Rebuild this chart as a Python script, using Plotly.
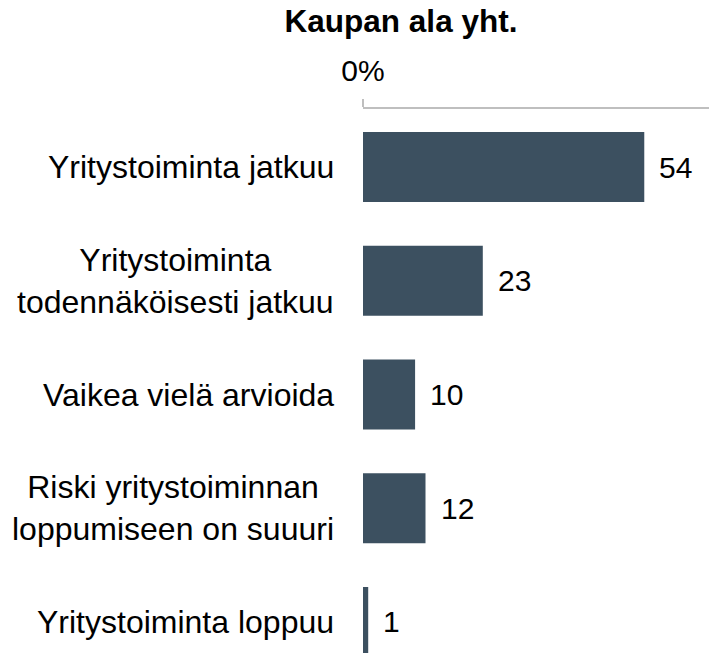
import plotly.graph_objects as go

categories = [
    "Yritystoiminta jatkuu",
    "Yritystoiminta<br>todennäköisesti jatkuu",
    "Vaikea vielä arvioida",
    "Riski yritystoiminnan<br>loppumiseen on suuuri",
    "Yritystoiminta loppuu",
]
values = [54, 23, 10, 12, 1]
title_text = "Kaupan ala yht."
tick_vals = [0]
tick_text = ["0%"]

BAR = "#3c5060"
FONT = "Liberation Sans, Arial, sans-serif"

fig = go.Figure()
fig.add_trace(go.Bar(
    x=values, y=categories, orientation="h",
    marker=dict(color=BAR, line=dict(width=0)),
    width=0.615, hoverinfo="skip",
))

annotations = []
for c, v in zip(categories, values):
    annotations.append(dict(
        x=v, y=c, xref="x", yref="y", text=str(v), showarrow=False,
        xanchor="left", yanchor="middle", xshift=13,
        font=dict(family=FONT, size=30, color="#000000"),
    ))
    annotations.append(dict(
        x=0, y=c, xref="paper", yref="y", text=c, showarrow=False,
        xanchor="right", yanchor="middle", xshift=-27, align="center",
        font=dict(family=FONT, size=32, color="#000000"),
    ))

fig.update_layout(
    width=717, height=653,
    margin=dict(l=355, r=0, t=101, b=0, pad=0),
    paper_bgcolor="white", plot_bgcolor="white",
    showlegend=False,
    font=dict(family=FONT, size=30, color="#000000"),
    title=dict(text="<b>" + title_text + "</b>", x=393 / 717, xanchor="center",
               xref="container", yref="container", y=1 - 13 / 653, yanchor="middle",
               font=dict(family=FONT, size=31.5, color="#000000")),
    xaxis=dict(side="top", range=[0, 69.5], tickvals=tick_vals, ticktext=tick_text,
               showline=True, linecolor="#bfbfbf", linewidth=1.5,
               ticks="outside", ticklen=8, tickcolor="#bfbfbf", tickwidth=1.5,
               ticklabelstandoff=6,
               showgrid=False, zeroline=False, fixedrange=True,
               tickfont=dict(family=FONT, size=30, color="#000000")),
    yaxis=dict(type="category", range=[4.343, -0.51], showticklabels=False,
               showgrid=False, zeroline=False, showline=False, ticks=""),
    annotations=annotations,
)

fig.write_html("out.html")
